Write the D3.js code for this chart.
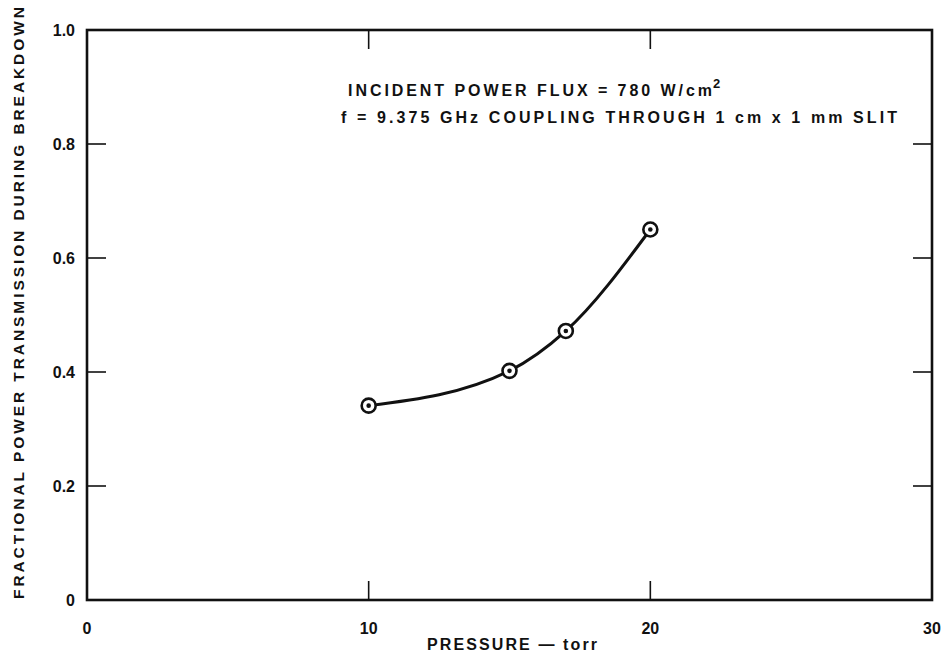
<!DOCTYPE html>
<html>
<head>
<meta charset="utf-8">
<script src="https://unpkg.com/d3@7/dist/d3.min.js"></script>
<style>
  body { margin: 0; background: #fff; }
  svg text { font-family: "Liberation Sans", Arial, sans-serif; font-weight: bold; fill: #111; }
</style>
</head>
<body>
<div class="container"></div>
<script>
const w = 944;
const h = 653;
const margin = {left: 87, right: 12, top: 30, bottom: 53};

// data
const pressure = [10, 15, 17, 20];
const transmission = [0.341, 0.402, 0.472, 0.650];
const xTicks = [0, 10, 20, 30];
const yTicks = [0, 0.2, 0.4, 0.6, 0.8, 1.0];
const notes = ["INCIDENT POWER FLUX = 780 W/cm", "f = 9.375 GHz COUPLING THROUGH 1 cm x 1 mm SLIT"];

const svg = d3.select('.container').append('svg')
    .attr('width', w)
    .attr('height', h);

const xScale = d3.scaleLinear().domain([0, 30]).range([margin.left, w - margin.right]);
const yScale = d3.scaleLinear().domain([0, 1]).range([h - margin.bottom, margin.top]);

const x0 = xScale(0), x1 = xScale(30), y0 = yScale(0), y1 = yScale(1);

// frame
svg.append('rect')
    .attr('x', x0).attr('y', y1)
    .attr('width', x1 - x0).attr('height', y0 - y1)
    .attr('fill', 'none').attr('stroke', '#111').attr('stroke-width', 2.6);

// inward ticks on all four sides
const tickLen = 19;
const inner = xTicks.slice(1, -1);
svg.selectAll('.tb').data(inner).enter().append('line')
    .attr('x1', d => xScale(d)).attr('x2', d => xScale(d))
    .attr('y1', y0).attr('y2', y0 - tickLen)
    .attr('stroke', '#111').attr('stroke-width', 1.6);
svg.selectAll('.tt').data(inner).enter().append('line')
    .attr('x1', d => xScale(d)).attr('x2', d => xScale(d))
    .attr('y1', y1).attr('y2', y1 + tickLen)
    .attr('stroke', '#111').attr('stroke-width', 1.6);
const innerY = yTicks.slice(1, -1);
svg.selectAll('.tl').data(innerY).enter().append('line')
    .attr('x1', x0).attr('x2', x0 + tickLen)
    .attr('y1', d => yScale(d)).attr('y2', d => yScale(d))
    .attr('stroke', '#111').attr('stroke-width', 1.6);
svg.selectAll('.tr').data(innerY).enter().append('line')
    .attr('x1', x1).attr('x2', x1 - tickLen)
    .attr('y1', d => yScale(d)).attr('y2', d => yScale(d))
    .attr('stroke', '#111').attr('stroke-width', 1.6);

// tick labels
svg.selectAll('.xl').data(xTicks).enter().append('text')
    .attr('x', d => xScale(d)).attr('y', y0 + 34)
    .attr('text-anchor', 'middle').style('font-size', '16px')
    .text(d => d);
svg.selectAll('.yl').data(yTicks).enter().append('text')
    .attr('x', x0 - 12).attr('y', d => yScale(d) + 6)
    .attr('text-anchor', 'end').style('font-size', '16px')
    .text(d => d === 0 ? '0' : d.toFixed(1));

// axis titles
svg.append('text')
    .attr('x', 427).attr('y', h - 3)
    .style('font-size', '16px')
    .attr('textLength', 170).attr('lengthAdjust', 'spacing')
    .text('PRESSURE \u2014 torr');

svg.append('text')
    .attr('transform', 'translate(24,' + 303 + ') rotate(-90)')
    .attr('text-anchor', 'middle').style('font-size', '15.5px')
    .attr('textLength', 592).attr('lengthAdjust', 'spacing')
    .text('FRACTIONAL POWER TRANSMISSION DURING BREAKDOWN');

// notes
svg.append('text')
    .attr('x', 348).attr('y', 96).style('font-size', '16px')
    .attr('textLength', 364).attr('lengthAdjust', 'spacing')
    .text(notes[0]);
svg.append('text')
    .attr('x', 713).attr('y', 88).style('font-size', '13px')
    .text('2');
svg.append('text')
    .attr('x', 341).attr('y', 123).style('font-size', '16px')
    .attr('textLength', 556).attr('lengthAdjust', 'spacing')
    .text(notes[1]);

// curve
const pts = pressure.map((p, i) => [p, transmission[i]]);
const line = d3.line()
    .x(d => xScale(d[0]))
    .y(d => yScale(d[1]))
    .curve(d3.curveMonotoneX);
svg.append('path')
    .datum(pts)
    .attr('d', line)
    .attr('fill', 'none').attr('stroke', '#111').attr('stroke-width', 3);

// markers
const m = svg.selectAll('.pt').data(pts).enter().append('g')
    .attr('transform', d => 'translate(' + xScale(d[0]) + ',' + yScale(d[1]) + ')');
m.append('circle').attr('r', 7).attr('fill', '#fff').attr('stroke', '#111').attr('stroke-width', 2.6);
m.append('circle').attr('r', 2.3).attr('fill', '#111');
</script>
</body>
</html>
